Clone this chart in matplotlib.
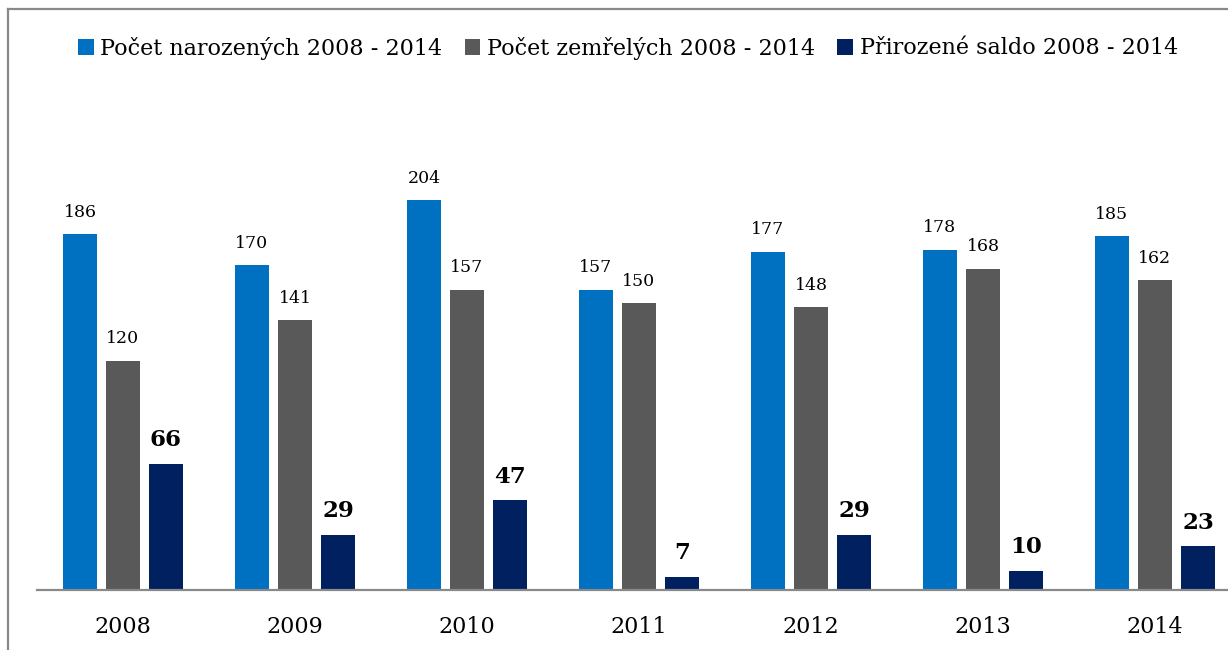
import numpy as np
import matplotlib
matplotlib.use('Agg')
import matplotlib.pyplot as plt
from matplotlib.lines import Line2D

years = ['2008', '2009', '2010', '2011', '2012', '2013', '2014']
narozeni = [186, 170, 204, 157, 177, 178, 185]
zemreli = [120, 141, 157, 150, 148, 168, 162]
saldo = [66, 29, 47, 7, 29, 10, 23]

labels = ['Počet narozených 2008 - 2014', 'Počet zemřelých 2008 - 2014', 'Přirozené saldo 2008 - 2014']
colors = ['#0070C0', '#595959', '#002060']

plt.rcParams['font.family'] = ['DejaVu Serif']

W, H = 1228, 650
fig = plt.figure(figsize=(W / 100, H / 100), dpi=100)
ax = fig.add_axes([37 / W, 60 / H, 1204 / W, 478 / H])

x = np.arange(len(years))
bw = 0.198
step = 0.25
series = [narozeni, zemreli, saldo]
for i, (vals, c, lab) in enumerate(zip(series, colors, labels)):
    pos = x + (i - 1) * step
    ax.bar(pos, vals, width=bw, color=c, label=lab, zorder=2)
    for p, v in zip(pos, vals):
        if i == 2:
            ax.text(p, v + 6.5, str(v), ha='center', va='bottom', fontsize=16.5, fontweight='bold')
        else:
            ax.text(p, v + 7, str(v), ha='center', va='bottom', fontsize=12.5)

ax.set_xlim(-0.5, len(years) - 0.5)
ax.set_ylim(0, 250)
ax.set_xticks(x)
ax.set_xticklabels(years, fontsize=16)
ax.tick_params(axis='x', length=0, pad=19)
ax.set_yticks([])
for s in ['top', 'right', 'left']:
    ax.spines[s].set_visible(False)
ax.spines['bottom'].set_color('#898989')
ax.spines['bottom'].set_linewidth(1.6)

# outer chart frame (left and top edges visible)
fig.add_artist(Line2D([8 / W, 8 / W], [0, 1 - 9 / H], color='#898989', lw=1.6))
fig.add_artist(Line2D([8 / W, 1], [1 - 9 / H, 1 - 9 / H], color='#898989', lw=1.6))

fig.legend(loc='center', bbox_to_anchor=(628 / W, 1 - 48 / H), ncol=3, frameon=False,
           fontsize=16, handlelength=0.7, handleheight=0.7, handletextpad=0.3,
           columnspacing=1.0)

fig.savefig('out.png', dpi=100)
